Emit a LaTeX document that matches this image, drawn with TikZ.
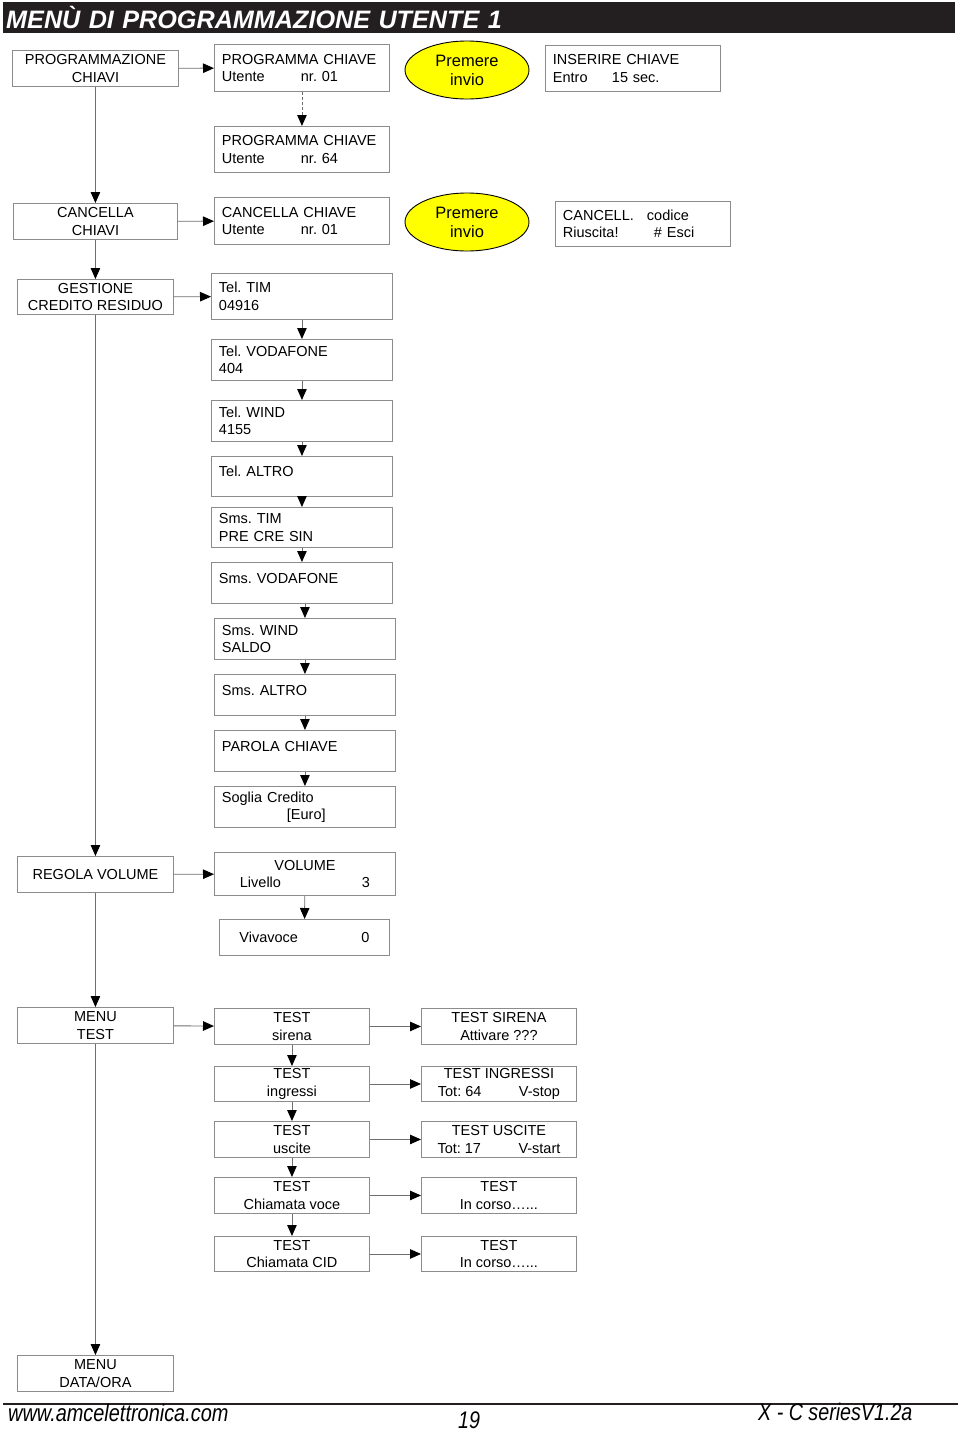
\documentclass[tikz,border=0pt]{standalone}
\usepackage{fontspec}
\setmainfont{Liberation Sans}
\usetikzlibrary{arrows.meta,shapes.geometric}
\definecolor{boxgray}{HTML}{8C8C8C}
\definecolor{linegray}{HTML}{6E6E6E}
\definecolor{barblack}{HTML}{231F20}
\definecolor{invioyellow}{HTML}{FFFF00}
\frenchspacing
\newcommand{\boxfont}{\fontsize{14.5}{17.3}\selectfont}
\newcommand{\inviofont}{\fontsize{16.5}{19}\selectfont}
\newcommand{\titlefont}{\fontsize{25.2}{28}\selectfont\bfseries\itshape}
\newcommand{\footfont}{\fontsize{24}{24}\selectfont\itshape}
\tikzset{
    every node/.style={inner sep=0pt, font=\boxfont}
}
\tikzset{
    menubox/.style={draw=boxgray, line width=0.9pt, anchor=north west, minimum width=156pt, minimum height=36pt, align=center},
    lcdbox/.style={draw=boxgray, line width=0.9pt, anchor=north west, minimum width=181pt, minimum height=41pt, text width=166pt, inner xsep=7.5pt, align=left},
    lcdshort/.style={lcdbox, minimum width=175pt, text width=160pt},
    oneline/.style={text depth=10pt},
    testbox/.style={draw=boxgray, line width=0.9pt, anchor=north west, minimum width=155pt, minimum height=36pt, align=center},
    invio/.style={ellipse, draw=black, line width=0.9pt, fill=invioyellow, minimum width=124pt, minimum height=58pt, font=\inviofont, align=center},
    link/.style={draw=linegray, line width=0.9pt, -{Triangle[length=11pt,width=9.5pt,color=black]}}
}

\begin{document}
\begin{tikzpicture}[x=1pt, y=-1pt]
        \useasboundingbox (0,0) rectangle (960,1433);
        \node (title) [anchor=north west, fill=barblack, minimum width=952pt, minimum height=31pt, text width=946pt, inner xsep=3pt, align=left, text=white, font=\titlefont] at (3,2) {MENÙ DI PROGRAMMAZIONE UTENTE 1};
        % main menu column
        \node (m0) [menubox, minimum width=166pt] at (12,50) {PROGRAMMAZIONE\\CHIAVI};
        \node (m1) [menubox, minimum width=164pt] at (13,203) {CANCELLA\\CHIAVI};
        \node (m2) [menubox, minimum height=35pt] at (17,279) {GESTIONE\\CREDITO RESIDUO};
        \node (m3) [menubox] at (17,856) {REGOLA VOLUME};
        \node (m4) [menubox] at (17,1007) {MENU\\TEST};
        \node (m5) [menubox] at (17,1355) {MENU\\DATA/ORA};
        % keys
        \node (k0) [lcdshort, minimum height=47pt] at (214,44) {PROGRAMMA CHIAVE\\\makebox[79pt][l]{Utente}nr. 01};
        \node (k1) [lcdshort, minimum height=46pt] at (214,126) {PROGRAMMA CHIAVE\\\makebox[79pt][l]{Utente}nr. 64};
        \node (k2) [lcdshort, minimum height=47pt] at (214,197) {CANCELLA CHIAVE\\\makebox[79pt][l]{Utente}nr. 01};
        \node (e0) [invio] at (467,70) {Premere\\invio};
        \node (e1) [invio] at (467,222) {Premere\\invio};
        \node (k3) [lcdshort, minimum height=46pt] at (545,45) {INSERIRE CHIAVE\\\makebox[59pt][l]{Entro}15 sec.};
        \node (k4) [lcdshort, minimum height=45pt] at (555,201) {\makebox[84pt][l]{CANCELL.}codice\\\makebox[91pt][l]{Riuscita!}\# Esci};
        % credit
        \node (t0) [lcdbox, minimum height=46pt] at (211,273) {Tel. TIM\\04916};
        \node (t1) [lcdbox] at (211,339) {Tel. VODAFONE\\404};
        \node (t2) [lcdbox] at (211,400) {Tel. WIND\\4155};
        \node (t3) [lcdbox, oneline, minimum height=40pt] at (211,456) {Tel. ALTRO};
        \node (t4) [lcdbox, minimum height=40pt] at (211,507) {Sms. TIM\\PRE CRE SIN};
        \node (t5) [lcdbox, oneline] at (211,562) {Sms. VODAFONE};
        \node (t6) [lcdbox] at (214,618) {Sms. WIND\\SALDO};
        \node (t7) [lcdbox, oneline] at (214,674) {Sms. ALTRO};
        \node (t8) [lcdbox, oneline] at (214,730) {PAROLA CHIAVE};
        \node (t9) [lcdbox] at (214,786) {Soglia Credito\\\hspace*{65pt}[Euro]};
        % volume
        \node (vol) [lcdbox, minimum height=43pt, align=center] at (214,852) {VOLUME\\\makebox[122pt][l]{Livello}3};
        \node (viva) [lcdbox, minimum width=170pt, text width=155pt, minimum height=36pt, align=center] at (219,919) {\makebox[122pt][l]{Vivavoce}0};
        % test
        \node (s0) [testbox] at (214,1008) {TEST\\sirena};
        \node (s1) [testbox, minimum height=35pt] at (214,1066) {TEST\\ingressi};
        \node (s2) [testbox] at (214,1121) {TEST\\uscite};
        \node (s3) [testbox] at (214,1177) {TEST\\Chiamata voce};
        \node (s4) [testbox, minimum height=35pt] at (214,1236) {TEST\\Chiamata CID};
        \node (r0) [testbox] at (421,1008) {TEST SIRENA\\Attivare ???};
        \node (r1) [testbox, minimum height=35pt] at (421,1066) {TEST INGRESSI\\\makebox[81pt][l]{Tot: 64}V-stop};
        \node (r2) [testbox] at (421,1121) {TEST USCITE\\\makebox[81pt][l]{Tot: 17}V-start};
        \node (r3) [testbox] at (421,1177) {TEST\\In corso…...};
        \node (r4) [testbox, minimum height=35pt] at (421,1236) {TEST\\In corso…...};
        % footer
        \draw [line width=2pt, draw=barblack] (3,1404) -- (958,1404);
        \node (web) [anchor=base west, font=\footfont] at (8,1421) {\scalebox{0.83}[1]{www.amcelettronica.com}};
        \node (page) [anchor=base west, font=\footfont] at (458,1428) {\scalebox{0.82}[1]{19}};
        \node (ver) [anchor=base west, font=\footfont] at (758,1420) {\scalebox{0.82}[1]{X - C seriesV1.2a}};

        \draw (m0) edge [link] (m1);
        \draw (m1) edge [link] (m2);
        \draw (m2) edge [link] (m3);
        \draw (m3) edge [link] (m4);
        \draw (m4) edge [link] (m5);
        \draw (m0) edge [link] (k0);
        \draw (k0) edge [link, dash pattern=on 3pt off 2pt] (k1);
        \draw (m1) edge [link] (k2);
        \draw (m2) edge [link] (t0);
        \draw (t0) edge [link] (t1);
        \draw (t1) edge [link] (t2);
        \draw (t2) edge [link] (t3);
        \draw (t3) edge [link] (t4);
        \draw (t4) edge [link] (t5);
        \draw (t5.south -| t6.north) edge [link] (t6.north);
        \draw (t6) edge [link] (t7);
        \draw (t7) edge [link] (t8);
        \draw (t8) edge [link] (t9);
        \draw (m3) edge [link] (vol);
        \draw (vol) edge [link] (viva);
        \draw (m4) edge [link] (s0);
        \draw (s0) edge [link] (s1);
        \draw (s1) edge [link] (s2);
        \draw (s2) edge [link] (s3);
        \draw (s3) edge [link] (s4);
        \draw (s0) edge [link] (r0);
        \draw (s1) edge [link] (r1);
        \draw (s2) edge [link] (r2);
        \draw (s3) edge [link] (r3);
        \draw (s4) edge [link] (r4);
\end{tikzpicture}
\end{document}
